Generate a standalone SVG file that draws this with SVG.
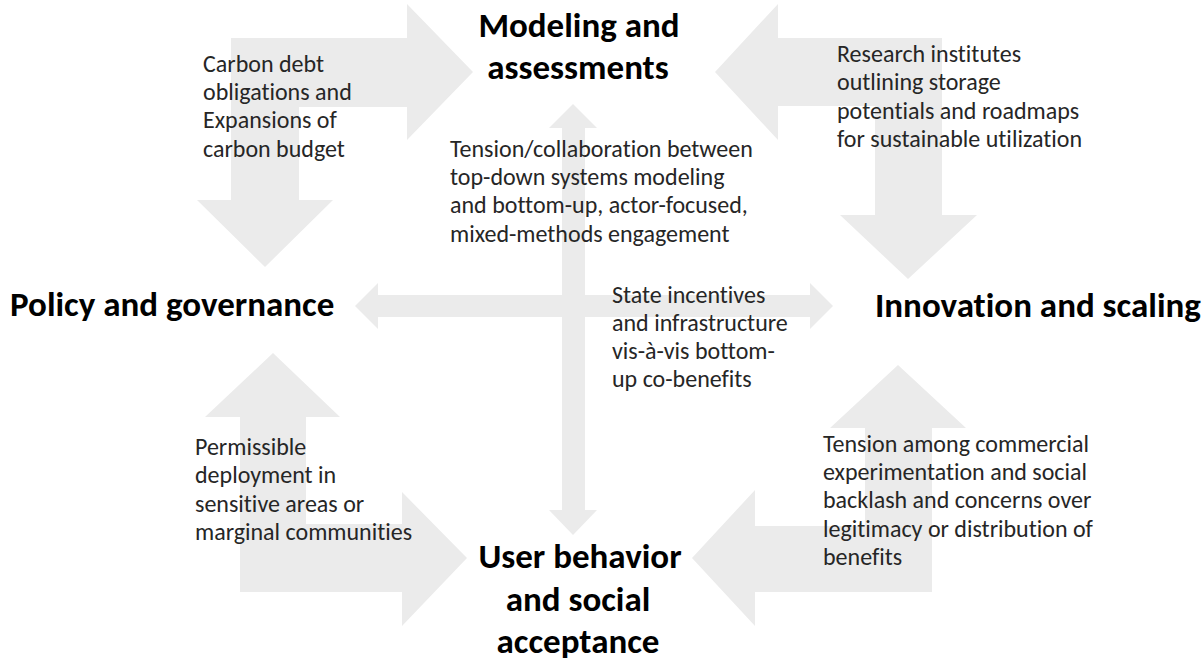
<svg xmlns="http://www.w3.org/2000/svg" width="1204" height="664" viewBox="0 0 1204 664">
  <style>
    .arrow { fill: #ebebeb; stroke: none; }
    .title { font-family: Carlito, Lato, "Liberation Sans", sans-serif; font-weight: bold; font-size: 35px; fill: #000; font-variant-ligatures: none; }
    .lbl { font-family: Carlito, Lato, "Liberation Sans", sans-serif; font-size: 24px; fill: #262626; font-variant-ligatures: none; }
  </style>
  <rect x="0" y="0" width="1204" height="664" fill="#ffffff"/>
  <g id="connectors">
    <polygon class="arrow" points="231,38 407,38 407,4 473,72 407,140 407,107 299,107 299,200 333,200 265,267 197,200 231,200"/>
    <polygon class="arrow" points="942,38 778,38 778,4 715,72 778,140 778,106 875,106 875,215 840,215 908,279 977,215 942,215"/>
    <polygon class="arrow" points="240,592 240,417 205,417 273,353 340,417 306,417 306,524 402,524 402,492 467,558 402,626 402,592"/>
    <polygon class="arrow" points="932,592 932,428 966,428 898,365 830,428 865,428 865,526 755,526 755,490 692,558 755,626 755,592"/>
    <polygon class="arrow" points="562,128 549,128 573,104 597,128 585,128 585,510 597,510 573,535 549,510 562,510"/>
    <polygon class="arrow" points="378,295 378,283 355,306 378,329 378,317 810,317 810,329 833,306 810,283 810,295"/>
  </g>
  <g id="labels">
    <text class="lbl" x="203" y="72">Carbon debt</text>
    <text class="lbl" x="203" y="100">obligations and</text>
    <text class="lbl" x="203" y="128">Expansions of</text>
    <text class="lbl" x="203" y="157">carbon budget</text>

    <text class="lbl" x="837" y="62">Research institutes</text>
    <text class="lbl" x="837" y="90">outlining storage</text>
    <text class="lbl" x="837" y="119">potentials and roadmaps</text>
    <text class="lbl" x="837" y="147">for sustainable utilization</text>

    <text class="lbl" x="450" y="157">Tension/collaboration between</text>
    <text class="lbl" x="450" y="185">top-down systems modeling</text>
    <text class="lbl" x="450" y="213">and bottom-up, actor-focused,</text>
    <text class="lbl" x="450" y="242">mixed-methods engagement</text>

    <text class="lbl" x="612" y="303">State incentives</text>
    <text class="lbl" x="612" y="331">and infrastructure</text>
    <text class="lbl" x="612" y="359">vis-à-vis bottom-</text>
    <text class="lbl" x="612" y="387">up co-benefits</text>

    <text class="lbl" x="195" y="455">Permissible</text>
    <text class="lbl" x="195" y="483">deployment in</text>
    <text class="lbl" x="195" y="512">sensitive areas or</text>
    <text class="lbl" x="195" y="540">marginal communities</text>

    <text class="lbl" x="823" y="452">Tension among commercial</text>
    <text class="lbl" x="823" y="480">experimentation and social</text>
    <text class="lbl" x="823" y="508">backlash and concerns over</text>
    <text class="lbl" x="823" y="537">legitimacy or distribution of</text>
    <text class="lbl" x="823" y="565">benefits</text>
  </g>
  <g id="node-modeling">
    <text class="title" x="579" y="37" text-anchor="middle">Modeling and</text>
    <text class="title" x="578" y="79" text-anchor="middle">assessments</text>
  </g>
  <g id="node-policy">
    <text class="title" x="10" y="316">Policy and governance</text>
  </g>
  <g id="node-innovation">
    <text class="title" x="875" y="317">Innovation and scaling</text>
  </g>
  <g id="node-user">
    <text class="title" x="580" y="568" text-anchor="middle">User behavior</text>
    <text class="title" x="578" y="611" text-anchor="middle">and social</text>
    <text class="title" x="578" y="653" text-anchor="middle">acceptance</text>
  </g>
</svg>
